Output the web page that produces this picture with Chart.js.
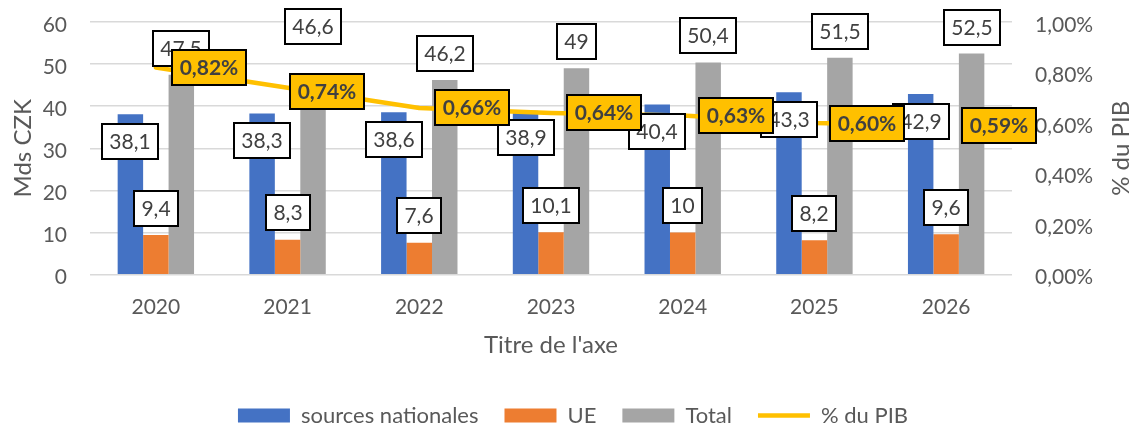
<!DOCTYPE html>
<html>
<head>
<meta charset="utf-8">
<script src="https://cdn.jsdelivr.net/npm/chart.js@4.4.1/dist/chart.umd.min.js"></script>
<style>
html,body{margin:0;padding:0;background:#ffffff;}
#wrap{width:1132px;height:425px;position:relative;}
</style>
</head>
<body>
<div id="wrap"><canvas id="chart"></canvas></div>
<script>
// ---- data ----
const categories = ['2020', '2021', '2022', '2023', '2024', '2025', '2026'];
const nationalSources = [38.1, 38.3, 38.6, 38.9, 40.4, 43.3, 42.9];
const euFunds = [9.4, 8.3, 7.6, 10.1, 10, 8.2, 9.6];
const totals = [47.5, 46.6, 46.2, 49, 50.4, 51.5, 52.5];
const gdpShare = [0.82, 0.74, 0.66, 0.64, 0.63, 0.60, 0.59]; // percent
const seriesNames = ['sources nationales', 'UE', 'Total', '% du PIB'];
const xAxisTitle = "Titre de l'axe";
const leftAxisTitle = 'Mds CZK';
const rightAxisTitle = '% du PIB';
const leftAxisRange = [0, 60, 10];
const rightAxisRange = [0, 1, 0.2];

// manual label nudges (the reference moved a couple of labels by hand)
const totalLabelNudgeY = [0, -25, 0, 0, 0, 0, 0];
const shareLabelNudgeX = [0, -14, 0, 0, 0, 0, 0];
const shareLabelNudgeY = [0, 4, 0, 0, 0, 0, 0];

const FONT = 'Lato';
const AXIS_COLOR = '#595959';
const LABEL_COLOR = '#404040';

Chart.defaults.font.family = FONT;

const fmtNum = v => String(v).replace('.', ',');
const fmtPct = v => v.toFixed(2).replace('.', ',') + '%';

function drawBox(ctx, text, cx, cy, bold, fill, leftAnchored) {
  ctx.font = (bold ? 'bold ' : '') + '21px ' + FONT;
  const w = Math.round(ctx.measureText(text).width + 17);
  const h = 37;
  if (leftAnchored) cx = cx + w / 2;
  const x = Math.round(cx - w / 2), y = Math.round(cy - h / 2);
  ctx.fillStyle = fill;
  ctx.fillRect(x, y, w, h);
  ctx.lineWidth = 2;
  ctx.strokeStyle = '#000000';
  ctx.strokeRect(x + 1, y + 1, w - 2, h - 2);
  ctx.fillStyle = LABEL_COLOR;
  ctx.textAlign = 'center';
  ctx.textBaseline = 'alphabetic';
  ctx.fillText(text, x + w / 2, y + h / 2 + 7.5);
}

const excelLabels = {
  id: 'excelLabels',
  afterLayout(chart) {
    const lg = chart.legend;
    if (lg) { lg.left += 7; lg.right += 7; lg.top += 11.5; lg.bottom += 11.5; }
  },
  afterDatasetsDraw(chart) {
    const ctx = chart.ctx;
    ctx.save();
    const m0 = chart.getDatasetMeta(0).data;
    const m1 = chart.getDatasetMeta(1).data;
    const m2 = chart.getDatasetMeta(2).data;
    const m3 = chart.getDatasetMeta(3).data;
    m0.forEach((el, i) => drawBox(ctx, fmtNum(nationalSources[i]), el.x, el.y + 27, false, '#ffffff'));
    m1.forEach((el, i) => drawBox(ctx, fmtNum(euFunds[i]), el.x, el.y - 27, false, '#ffffff'));
    m2.forEach((el, i) => drawBox(ctx, fmtNum(totals[i]), el.x, el.y - 26.5 + totalLabelNudgeY[i], false, '#ffffff'));
    m3.forEach((el, i) => drawBox(ctx, fmtPct(gdpShare[i]), el.x + 15 + shareLabelNudgeX[i], el.y + shareLabelNudgeY[i], true, '#FFC000', true));
    ctx.restore();
  },
  afterDraw(chart) {
    const ctx = chart.ctx;
    const ca = chart.chartArea;
    const s = chart.scales.y1;
    ctx.save();
    ctx.translate(s.right - 11, (ca.top + ca.bottom) / 2);
    ctx.rotate(-Math.PI / 2);
    ctx.font = '24px ' + FONT;
    ctx.fillStyle = AXIS_COLOR;
    ctx.textAlign = 'center';
    ctx.textBaseline = 'middle';
    ctx.fillText(rightAxisTitle, 0, 0);
    ctx.restore();
  }
};

const noVerticalOverflow = s => { s.paddingTop = 0; s.paddingBottom = 0; };

new Chart(document.getElementById('chart'), {
  type: 'bar',
  data: {
    labels: categories,
    datasets: [
      { label: seriesNames[0], data: nationalSources, backgroundColor: '#4472C4', yAxisID: 'y', order: 1, pointStyle: 'rect' },
      { label: seriesNames[1], data: euFunds, backgroundColor: '#ED7D31', yAxisID: 'y', order: 1, pointStyle: 'rect' },
      { label: seriesNames[2], data: totals, backgroundColor: '#A5A5A5', yAxisID: 'y', order: 1, pointStyle: 'rect' },
      { type: 'line', label: seriesNames[3], data: gdpShare, yAxisID: 'y1', order: 0,
        borderColor: '#FFC000', backgroundColor: '#FFC000', borderWidth: 4.5,
        pointRadius: 0, pointHoverRadius: 0, tension: 0, pointStyle: 'line',
        borderCapStyle: 'round', borderJoinStyle: 'round', fill: false }
    ]
  },
  options: {
    responsive: true,
    maintainAspectRatio: false,
    animation: false,
    devicePixelRatio: 1,
    events: [],
    datasets: { bar: { categoryPercentage: 0.58, barPercentage: 1 } },
    layout: { padding: { top: 22, left: 0, right: 0, bottom: 0 } },
    plugins: {
      legend: {
        position: 'bottom',
        labels: {
          usePointStyle: true, pointStyleWidth: 52, boxHeight: 14, padding: 26,
          color: AXIS_COLOR, font: { size: 22 },
          sort: (a, b) => a.datasetIndex - b.datasetIndex
        }
      },
      tooltip: { enabled: false }
    },
    scales: {
      x: {
        grid: { display: false, drawTicks: false },
        border: { display: false },
        ticks: { color: AXIS_COLOR, font: { size: 21 }, padding: 20 },
        title: { display: true, text: xAxisTitle, color: AXIS_COLOR, font: { size: 24 }, padding: { top: 0, bottom: 7 } },
        afterFit: s => { s.height = 92.3; }
      },
      y: {
        position: 'left',
        min: leftAxisRange[0], max: leftAxisRange[1],
        ticks: { stepSize: leftAxisRange[2], color: AXIS_COLOR, font: { size: 21 }, padding: 23, labelOffset: 3 },
        grid: { color: '#D9D9D9', lineWidth: 1.5, drawTicks: false },
        border: { display: false },
        title: { display: true, text: leftAxisTitle, color: AXIS_COLOR, font: { size: 24 }, padding: { top: 9, bottom: 0 } },
        afterFit: s => { s.width = 90; noVerticalOverflow(s); }
      },
      y1: {
        position: 'right',
        min: rightAxisRange[0], max: rightAxisRange[1],
        ticks: { stepSize: rightAxisRange[2], color: AXIS_COLOR, font: { size: 21 }, padding: 23, labelOffset: 3,
                 callback: v => fmtPct(v) },
        grid: { display: false, drawTicks: false },
        border: { display: false },
        afterFit: s => { s.width = 120; noVerticalOverflow(s); }
      }
    }
  },
  plugins: [excelLabels]
});
</script>
</body>
</html>
